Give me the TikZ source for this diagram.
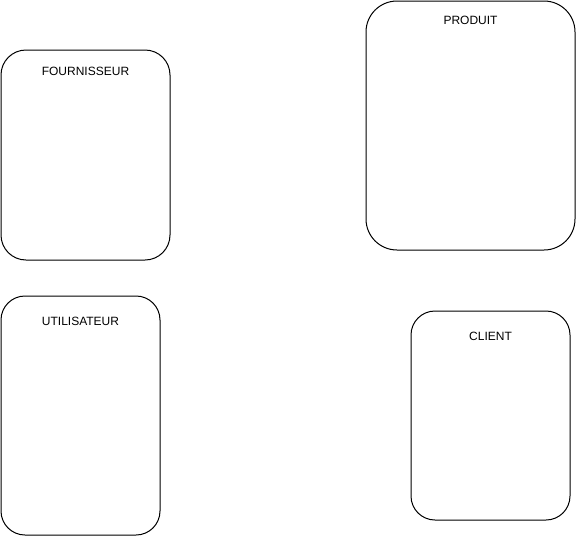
\documentclass[tikz,border=0pt]{standalone}
\usepackage{fontspec}
\setmainfont{Liberation Sans}
\begin{document}
\begin{tikzpicture}[x=1pt,y=-1pt,
  box/.style={draw=black,line width=1pt,fill=white,inner sep=0pt},
  lbl/.style={inner sep=0pt,font=\fontsize{12}{14}\selectfont}]
\useasboundingbox (0,0) rectangle (576,536);
\node[box,rounded corners=25pt,minimum width=169pt,minimum height=210pt] (f) at (85.5,155) {};
\node[lbl] (fl) at (85.5,71) {FOURNISSEUR};
\node[box,rounded corners=31pt,minimum width=209pt,minimum height=249pt] (p) at (470.5,125.5) {};
\node[lbl] (pl) at (470.5,20) {PRODUIT};
\node[box,rounded corners=24pt,minimum width=159pt,minimum height=239pt] (u) at (80.5,415.5) {};
\node[lbl] (ul) at (80.5,321) {UTILISATEUR};
\node[box,rounded corners=24pt,minimum width=159pt,minimum height=209pt] (c) at (490.5,415.5) {};
\node[lbl] (cl) at (490.5,336) {CLIENT};
\end{tikzpicture}
\end{document}
